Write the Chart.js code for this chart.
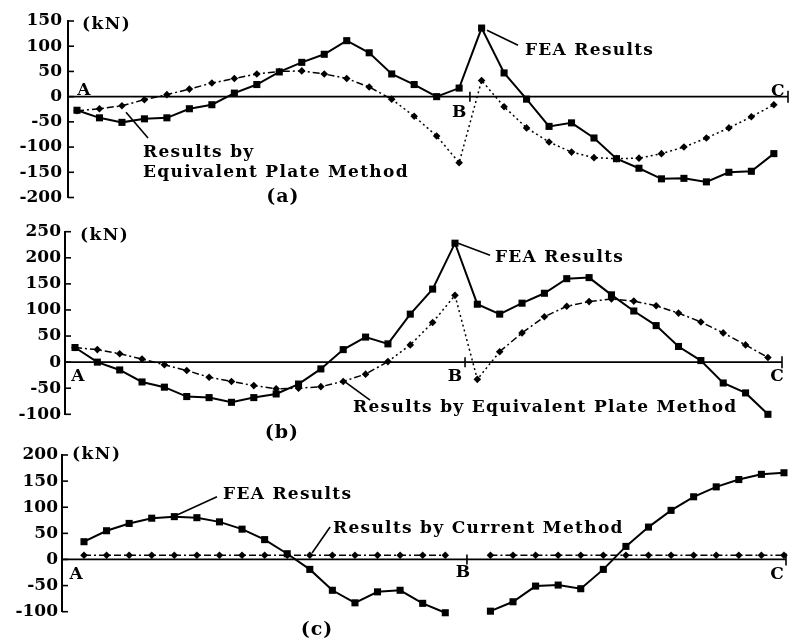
<!DOCTYPE html>
<html>
<head>
<meta charset="utf-8">
<script src="https://cdn.jsdelivr.net/npm/chart.js@4.4.1/dist/chart.umd.min.js"></script>
<style>
  html, body { margin: 0; padding: 0; background: #fff; }
  #wrap { position: relative; width: 793px; height: 639px; background: #fff; overflow: hidden; }
  #wrap canvas { position: absolute; left: 0; top: 0; }
</style>
</head>
<body>
<div id="wrap">
  <canvas id="ca" width="793" height="639"></canvas>
  <canvas id="cb" width="793" height="639"></canvas>
  <canvas id="cc" width="793" height="639"></canvas>
</div>
<script>
// ---- data (x = station index along A-B-C, y = force in kN) ----
const stations = [0,1,2,3,4,5,6,7,8,9,10,11,12,13,14,15,16,17,18,19,20,21,22,23,24,25,26,27,28,29,30,31];

const feaA = [-27,-42,-51,-44,-42,-24,-16,7,24,49,68,84,111,87,45,24,0,17,136,47,-5,-59,-52,-82,-123,-142,-163,-162,-169,-150,-148,-113];
const epmA = [-28,-24,-18,-6,4,15,27,36,45,50,51,45,36,19,-5,-39,-78,-131,32,-20,-62,-90,-110,-121,-123,-122,-113,-100,-82,-62,-40,-16];

const feaB = [28,0,-15,-38,-48,-66,-68,-77,-68,-61,-42,-13,24,48,35,92,140,228,111,92,113,132,160,162,129,98,70,30,3,-40,-59,-100];
const epmB = [28,24,16,6,-5,-16,-29,-37,-45,-51,-50,-47,-37,-23,1,33,76,128,-33,20,56,87,107,116,121,117,108,94,77,56,33,9];

const feaC = [34,55,69,79,82,80,72,58,38,11,-19,-59,-83,-62,-59,-84,-102,null,-99,-81,-51,-49,-56,-19,25,62,94,120,139,153,163,166];
const curC = [8,8,8,8,8,8,8,8,8,8,8,8,8,8,8,8,8,null,8,8,8,8,8,8,8,8,8,8,8,8,8,8];

const yTicksA = {min: -200, max: 150, step: 50};
const yTicksB = {min: -100, max: 250, step: 50};
const yTicksC = {min: -100, max: 200, step: 50};

const pointLabels = ['A', 'B', 'C'];
const unitLabel = '(kN)';
const panelLabels = ['(a)', '(b)', '(c)'];
const feaName = 'FEA Results';
const epmName = 'Results by Equivalent Plate Method';
const curName = 'Results by Current Method';

// ---- helpers ----
const FONT = '"DejaVu Serif", serif';
const txtFont = 'bold 17px ' + FONT;
const capFont = 'bold 19px ' + FONT;

function pts(vals) { return stations.map((s, i) => ({x: s, y: vals[i]})); }

const DASHDOT = [7, 3, 2, 3];
const DOTTED = [2, 3];

function feaSet(vals) {
  return {
    data: pts(vals), borderColor: '#000', backgroundColor: '#000', borderWidth: 2,
    pointStyle: 'rect', pointRadius: 5, pointBorderWidth: 0, tension: 0, spanGaps: false, clip: false
  };
}
function epmSet(vals, dotFrom, dotTo) {
  return {
    data: pts(vals), borderColor: '#000', backgroundColor: '#000', borderWidth: 1.5,
    pointStyle: 'rectRot', pointRadius: 3.8, pointBorderWidth: 0, tension: 0, spanGaps: false, clip: false,
    borderDash: DASHDOT,
    segment: {
      borderDash: ctx => (ctx.p0.parsed.x >= dotFrom && ctx.p0.parsed.x < dotTo) ? DOTTED : DASHDOT
    }
  };
}

const decor = {
  id: 'decor',
  beforeDatasetsDraw(chart, args, o) {
    const {ctx, chartArea: a, scales: {x, y}} = chart;
    const X = v => x.getPixelForValue(v), Y = v => y.getPixelForValue(v);
    ctx.save();
    ctx.strokeStyle = '#000';
    const y0 = Y(0);
    ctx.lineWidth = 1.8;
    ctx.beginPath(); ctx.moveTo(a.left, y0); ctx.lineTo(a.right, y0); ctx.stroke();
    ctx.lineWidth = 1.6;
    y.ticks.forEach(t => {
      const py = Y(t.value);
      ctx.beginPath(); ctx.moveTo(a.left, py); ctx.lineTo(a.left + 6, py); ctx.stroke();
    });
    o.marks.forEach(m => {
      const px = X(m);
      ctx.beginPath(); ctx.moveTo(px, y0 - 5); ctx.lineTo(px, y0 + 5); ctx.stroke();
    });
    ctx.beginPath(); ctx.moveTo(a.right, y0 - 6); ctx.lineTo(a.right, y0 + 6); ctx.stroke();
    ctx.lineWidth = 1.6;
    o.leaders.forEach(l => {
      ctx.beginPath(); ctx.moveTo(X(l[0]), Y(l[1])); ctx.lineTo(X(l[2]), Y(l[3])); ctx.stroke();
    });
    ctx.restore();
  },
  afterDraw(chart, args, o) {
    const {ctx, scales: {x, y}} = chart;
    ctx.save();
    ctx.fillStyle = '#000';
    ctx.textBaseline = 'middle';
    o.texts.forEach(t => {
      ctx.font = t.font || txtFont;
      ctx.letterSpacing = t.ls || '0px';
      ctx.textAlign = t.align || 'left';
      ctx.fillText(t.text, x.getPixelForValue(t.x), y.getPixelForValue(t.y));
    });
    ctx.restore();
  }
};

function makeChart(id, datasets, cfg) {
  return new Chart(document.getElementById(id), {
    type: 'line',
    data: {datasets},
    plugins: [decor],
    options: {
      responsive: false, animation: false, events: [],
      layout: {padding: cfg.pad},
      plugins: {legend: {display: false}, tooltip: {enabled: false}, decor: cfg.decor},
      scales: {
        x: {type: 'linear', display: false, min: cfg.xMin, max: cfg.xMax},
        y: {
          type: 'linear', min: cfg.ticks.min, max: cfg.ticks.max,
          afterFit: s => { s.width = cfg.axisX; },
          grid: {display: false, drawTicks: false},
          border: {display: true, color: '#000', width: 2},
          ticks: {stepSize: cfg.ticks.step, padding: cfg.tickPad, color: '#000',
                  font: {family: FONT, size: 17, weight: 'bold'}}
        }
      }
    }
  });
}

const LS = '1.3px';

// ---- panel (a) ----
makeChart('ca', [feaSet(feaA), epmSet(epmA, 14, 99)], {
  pad: {top: 21, bottom: 639 - 197.5, left: 0, right: 5},
  axisX: 68, tickPad: 6, xMin: -0.40, xMax: 31.63, ticks: yTicksA,
  decor: {
    marks: [17.48],
    leaders: [[18.24, 131.6, 19.62, 101.9], [2.18, -31, 3.16, -82]],
    texts: [
      {text: unitLabel, x: 0.22, y: 142, ls: '1.5px'},
      {text: pointLabels[0], x: 0.31, y: 13, align: 'center'},
      {text: pointLabels[1], x: 17.0, y: -31, align: 'center'},
      {text: pointLabels[2], x: 31.18, y: 11, align: 'center'},
      {text: feaName, x: 19.93, y: 92, ls: LS},
      {text: 'Results by', x: 2.94, y: -110, ls: LS},
      {text: 'Equivalent Plate Method', x: 2.94, y: -150, ls: LS},
      {text: panelLabels[0], x: 9.16, y: -199, align: 'center', font: capFont, ls: '1px'}
    ]
  }
});

// ---- panel (b) ----
makeChart('cb', [feaSet(feaB), epmSet(epmB, 14, 19)], {
  pad: {top: 231.7, bottom: 639 - 414.3, left: 0, right: 11},
  axisX: 65, tickPad: 4, xMin: -0.447, xMax: 31.63, ticks: yTicksB,
  decor: {
    marks: [17.45],
    leaders: [[17.14, 228, 18.57, 205], [12.08, -38, 13.2, -73]],
    texts: [
      {text: unitLabel, x: 0.22, y: 242, ls: '1.5px'},
      {text: pointLabels[0], x: 0.13, y: -28, align: 'center'},
      {text: pointLabels[1], x: 17.0, y: -28, align: 'center'},
      {text: pointLabels[2], x: 31.41, y: -28, align: 'center'},
      {text: feaName, x: 18.79, y: 200, ls: LS},
      {text: epmName, x: 12.44, y: -88, ls: LS},
      {text: panelLabels[1], x: 9.26, y: -136, align: 'center', font: capFont, ls: '1px'}
    ]
  }
});

// ---- panel (c) ----
makeChart('cc', [feaSet(feaC), epmSet(curC, 99, 99)], {
  pad: {top: 455, bottom: 639 - 611.7, left: 0, right: 7},
  axisX: 62, tickPad: 4, xMin: -0.974, xMax: 31.09, ticks: yTicksC,
  decor: {
    marks: [16.96],
    leaders: [[4.12, 85, 5.89, 120], [10.1, 12.4, 10.9, 62]],
    texts: [
      {text: unitLabel, x: -0.53, y: 200, ls: '1.5px'},
      {text: pointLabels[0], x: -0.35, y: -28, align: 'center'},
      {text: pointLabels[1], x: 16.78, y: -26, align: 'center'},
      {text: pointLabels[2], x: 30.69, y: -28, align: 'center'},
      {text: feaName, x: 6.16, y: 123.5, ls: LS},
      {text: curName, x: 11.03, y: 60, ls: LS},
      {text: panelLabels[2], x: 10.32, y: -135, align: 'center', font: capFont, ls: '1px'}
    ]
  }
});
</script>
</body>
</html>
